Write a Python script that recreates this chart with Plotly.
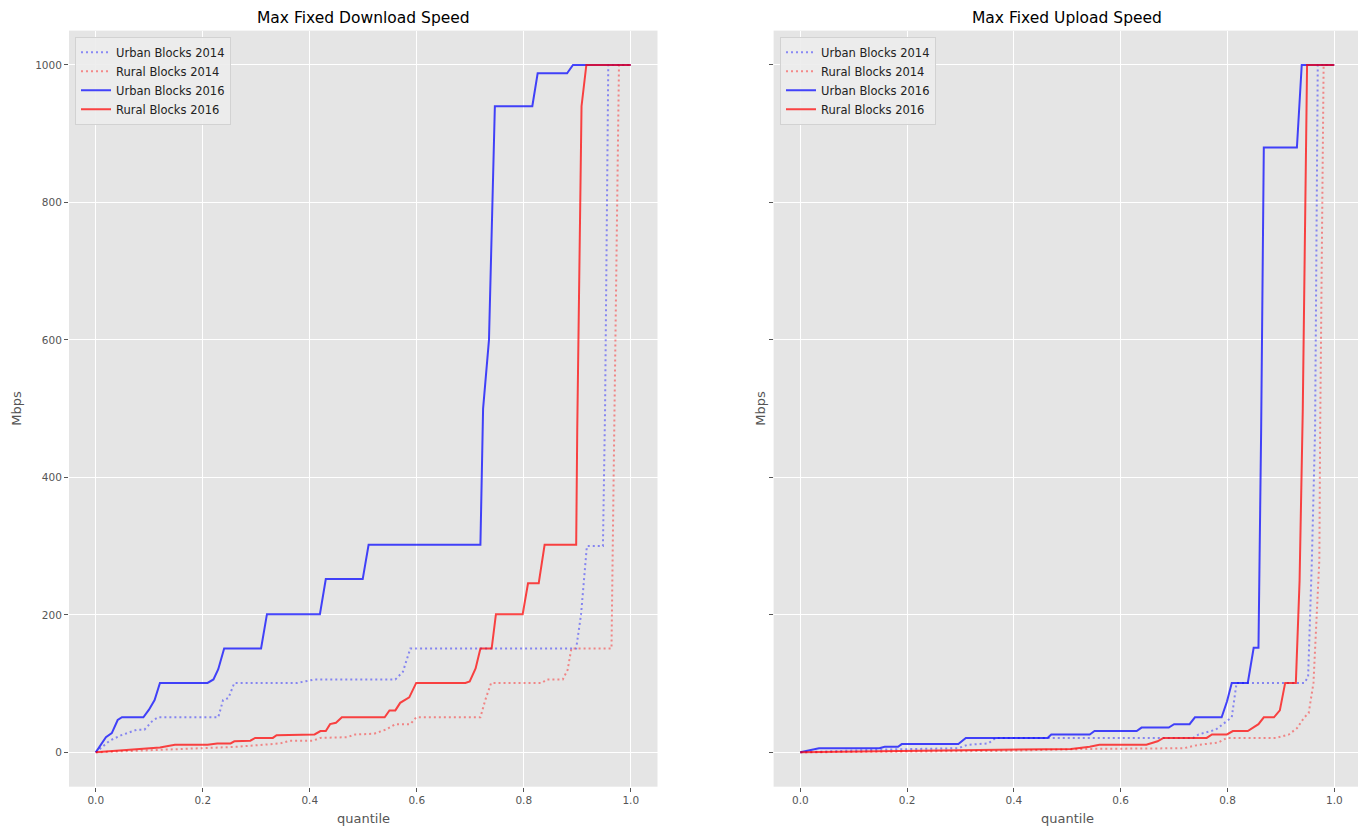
import plotly.graph_objects as go

# ---------------- data: Max Fixed Download Speed ----------------
urban14_dl_q = [0, 0.026, 0.048, 0.077, 0.091, 0.105, 0.116, 0.229, 0.238, 0.248, 0.259, 0.377, 0.409,
                0.560, 0.574, 0.588, 0.898, 0.907, 0.918, 0.948, 0.952, 0.958, 1.0]
urban14_dl_v = [0, 17, 25, 33, 33, 45, 51, 51, 76, 79, 101, 101, 106,
                106, 117, 151, 151, 200, 300, 300, 500, 1000, 1000]

rural14_dl_q = [0, 0.1, 0.2, 0.263, 0.345, 0.363, 0.406, 0.420, 0.47, 0.485, 0.520, 0.542, 0.560, 0.588,
                0.599, 0.719, 0.728, 0.739, 0.834, 0.843, 0.873, 0.882, 0.889, 0.964, 0.968, 0.978, 1.0]
rural14_dl_v = [0, 3, 6, 8, 13, 17, 17, 21, 22, 26, 27, 33, 41, 41,
                51, 51, 76, 101, 101, 106, 106, 120, 151, 151, 400, 1000, 1000]

urban16_dl_q = [0, 0.019, 0.030, 0.041, 0.049, 0.089, 0.0995, 0.110, 0.120, 0.209, 0.220, 0.229, 0.240,
                0.309, 0.320, 0.419, 0.430, 0.499, 0.510, 0.719, 0.724, 0.735, 0.746, 0.816, 0.826, 0.881,
                0.892, 1.0]
urban16_dl_v = [0, 22, 28, 47, 51, 51, 62, 76, 101, 101, 106, 121, 151,
                151, 201, 201, 252, 252, 302, 302, 500, 600, 940, 940, 988, 988,
                1000, 1000]

rural16_dl_q = [0, 0.06, 0.12, 0.148, 0.209, 0.227, 0.252, 0.259, 0.289, 0.298, 0.331, 0.338, 0.409,
                0.420, 0.430, 0.438, 0.449, 0.460, 0.540, 0.549, 0.560, 0.569, 0.586, 0.599, 0.691,
                0.699, 0.710, 0.719, 0.740, 0.748, 0.798, 0.808, 0.828, 0.839, 0.898, 0.900, 0.908,
                0.917, 1.0]
rural16_dl_v = [0, 3, 7, 11, 11, 13, 13, 16, 17, 21, 21, 25, 26,
                31, 31, 41, 43, 51, 51, 61, 61, 72, 80, 101, 101,
                103, 122, 151, 151, 201, 201, 246, 246, 302, 302, 470, 940,
                1000, 1000]

# ---------------- data: Max Fixed Upload Speed ----------------
urban14_ul_q = [0, 0.155, 0.296, 0.313, 0.352, 0.366, 0.736, 0.746, 0.778, 0.789, 0.808, 0.817, 0.944,
                0.951, 0.958, 0.964, 0.969, 1.0]
urban14_ul_v = [0, 4, 6, 11, 13, 21, 21, 26, 33, 40, 51, 101, 101,
                110, 280, 468, 1000, 1000]

rural14_ul_q = [0, 0.366, 0.542, 0.718, 0.746, 0.782, 0.799, 0.891, 0.915, 0.93, 0.944, 0.952, 0.961,
                0.972, 0.9735, 0.980, 1.0]
rural14_ul_v = [0, 2, 5, 6, 11, 14, 21, 21, 26, 35, 51, 57, 101,
                280, 468, 1000, 1000]

urban16_ul_q = [0, 0.035, 0.148, 0.158, 0.183, 0.19, 0.296, 0.31, 0.463, 0.47, 0.542, 0.551, 0.63,
                0.639, 0.69, 0.70, 0.729, 0.739, 0.789, 0.799, 0.808, 0.838, 0.849, 0.858, 0.863,
                0.868, 0.930, 0.939, 1.0]
urban16_ul_v = [0, 6, 6, 8, 8, 12, 12, 21, 21, 26, 26, 31, 31,
                36, 36, 41, 41, 51, 51, 74, 101, 101, 152, 152, 468,
                880, 880, 1000, 1000]

rural16_ul_q = [0, 0.2, 0.366, 0.507, 0.542, 0.56, 0.648, 0.669, 0.68, 0.761, 0.771, 0.799, 0.81,
                0.838, 0.858, 0.868, 0.887, 0.898, 0.908, 0.928, 0.935, 0.941, 0.949, 1.0]
rural16_ul_v = [0, 2, 4, 5, 8, 11, 11, 16, 21, 21, 26, 26, 31,
                31, 41, 51, 51, 61, 101, 101, 250, 500, 1000, 1000]

series_names = ["Urban Blocks 2014", "Rural Blocks 2014", "Urban Blocks 2016", "Rural Blocks 2016"]
panel_titles = ["Max Fixed Download Speed", "Max Fixed Upload Speed"]
x_ticks = [0.0, 0.2, 0.4, 0.6, 0.8, 1.0]
y_ticks = [0, 200, 400, 600, 800, 1000]

# ---------------- styling ----------------
OFF = 8                      # page body margin of the browser
W, H = 1366 - OFF, 826 - OFF  # figure size so that it fills the window
FONT = "DejaVu Sans"


def px_x(x):
    """window x pixel -> paper fraction"""
    return (x - OFF) / W


def px_y(y):
    """window y pixel (from top) -> paper fraction"""
    return (H - (y - OFF)) / H


styles = [
    dict(color="rgba(0,0,255,0.42)", width=2, dash="2px,3px"),
    dict(color="rgba(255,0,0,0.42)", width=2, dash="2px,3px"),
    dict(color="rgba(0,0,255,0.72)", width=2, dash="solid"),
    dict(color="rgba(255,0,0,0.72)", width=2, dash="solid"),
]

panels = [
    ([urban14_dl_q, rural14_dl_q, urban16_dl_q, rural16_dl_q],
     [urban14_dl_v, rural14_dl_v, urban16_dl_v, rural16_dl_v]),
    ([urban14_ul_q, rural14_ul_q, urban16_ul_q, rural16_ul_q],
     [urban14_ul_v, rural14_ul_v, urban16_ul_v, rural16_ul_v]),
]

fig = go.Figure()
for p, (qs, vs) in enumerate(panels):
    xa = "x" if p == 0 else "x2"
    ya = "y" if p == 0 else "y2"
    lg = "legend" if p == 0 else "legend2"
    for i in range(4):
        fig.add_trace(go.Scatter(
            x=qs[i], y=vs[i], mode="lines", name=series_names[i],
            line=styles[i], xaxis=xa, yaxis=ya, legend=lg, showlegend=True,
        ))

# plot-area geometry (window pixels)
x1_dom = [px_x(69), px_x(657.5)]
x2_dom = [px_x(773.6), px_x(1361)]
y_dom = [px_y(786.7), px_y(30.6)]

axis_common = dict(
    showgrid=True, gridcolor="white", gridwidth=1, zeroline=False, showline=False,
    ticks="outside", ticklen=4, tickwidth=1, tickcolor="#555555",
    tickfont=dict(family=FONT, size=10.5, color="#555555"),
)

legend_common = dict(
    xanchor="left", yanchor="top",
    bgcolor="rgba(236,236,236,0.9)", bordercolor="#D2D2D2", borderwidth=1,
    font=dict(family=FONT, size=11.5, color="#222222"), tracegroupgap=0,
)

fig.update_layout(
    width=W, height=H,
    margin=dict(l=0, r=0, t=0, b=0),
    paper_bgcolor="white", plot_bgcolor="#E5E5E5",
    font=dict(family=FONT, color="#555555"),
    xaxis=dict(domain=x1_dom, range=[-0.05, 1.05], tickvals=x_ticks,
               ticktext=[f"{t:.1f}" for t in x_ticks], anchor="y", **axis_common),
    yaxis=dict(domain=y_dom, range=[-50, 1050], tickvals=y_ticks, anchor="x", **axis_common),
    xaxis2=dict(domain=x2_dom, range=[-0.05, 1.05], tickvals=x_ticks,
                ticktext=[f"{t:.1f}" for t in x_ticks], anchor="y2", **axis_common),
    yaxis2=dict(domain=y_dom, range=[-50, 1050], tickvals=y_ticks, anchor="x2",
                showticklabels=False, **axis_common),
    legend=dict(x=px_x(75), y=px_y(36.7), **legend_common),
    legend2=dict(x=px_x(780), y=px_y(36.7), **legend_common),
)

anns = []
centers = [(x1_dom[0] + x1_dom[1]) / 2, (x2_dom[0] + x2_dom[1]) / 2]
for p in range(2):
    anns.append(dict(text=panel_titles[p], x=centers[p], y=px_y(18), xref="paper", yref="paper",
                     xanchor="center", yanchor="middle", showarrow=False,
                     font=dict(family=FONT, size=15.5, color="#000000")))
    anns.append(dict(text="quantile", x=centers[p], y=px_y(818), xref="paper", yref="paper",
                     xanchor="center", yanchor="middle", showarrow=False,
                     font=dict(family=FONT, size=13, color="#555555")))
mbps_x = [px_x(17), px_x(761)]
for p in range(2):
    anns.append(dict(text="Mbps", x=mbps_x[p], y=(y_dom[0] + y_dom[1]) / 2, xref="paper", yref="paper",
                     xanchor="center", yanchor="middle", showarrow=False, textangle=-90,
                     font=dict(family=FONT, size=13, color="#555555")))
fig.update_layout(annotations=anns)

fig.write_html("out.html")
